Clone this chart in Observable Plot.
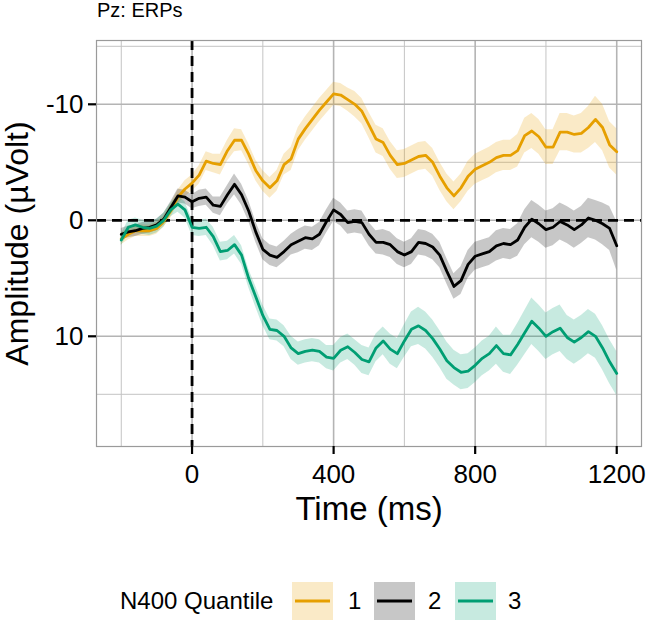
<!DOCTYPE html>
<html><head><meta charset="utf-8">
<script src="https://cdn.jsdelivr.net/npm/d3@7"></script>
<script src="https://cdn.jsdelivr.net/npm/@observablehq/plot@0.6"></script>
<style>
body{margin:0;background:#fff;font-family:"Liberation Sans",Arial,Helvetica,sans-serif;}
#wrap{position:relative;width:646px;height:624px;overflow:hidden;background:#fff;}
#title{position:absolute;left:97px;top:0px;font-size:20px;line-height:20px;color:#000;}
#chart{position:absolute;left:0;top:22px;}
#legend{position:absolute;left:0;top:570px;width:646px;height:54px;font-size:24px;color:#000;}
#legend span{position:absolute;line-height:24px;top:19px;white-space:nowrap;}
#legend svg{position:absolute;top:12px;}
</style></head><body>
<div id="wrap"><div id="title">Pz: ERPs</div><div id="chart"></div><div id="legend"></div></div>
<script>
const times = [-200,-180,-160,-140,-120,-100,-80,-60,-40,-20,0,20,40,60,80,100,120,140,160,180,200,220,240,260,280,300,320,340,360,380,400,420,440,460,480,500,520,540,560,580,600,620,640,660,680,700,720,740,760,780,800,820,840,860,880,900,920,940,960,980,1000,1020,1040,1060,1080,1100,1120,1140,1160,1180,1200];

const q1 = [1.6,1.2,0.9,0.9,0.9,0.7,0.1,-0.8,-2.0,-2.7,-3.2,-3.9,-5.1,-4.9,-4.8,-6.0,-6.9,-6.9,-5.7,-4.3,-3.4,-2.8,-3.4,-4.8,-5.3,-7.0,-7.9,-8.7,-9.5,-10.2,-10.9,-10.8,-10.4,-10.0,-9.4,-8.2,-7.0,-6.7,-5.6,-4.8,-4.9,-5.2,-5.5,-5.6,-5.0,-3.8,-2.8,-2.1,-2.8,-3.8,-4.4,-4.7,-5.0,-5.4,-5.6,-5.6,-6.0,-7.3,-7.7,-7.2,-6.3,-6.3,-7.6,-7.6,-7.4,-7.5,-8.0,-8.7,-8.0,-6.5,-5.9];
const q2 = [1.2,1.0,0.9,0.7,0.6,0.4,-0.1,-1.1,-2.1,-2.0,-1.6,-1.9,-2.0,-1.3,-1.2,-2.2,-3.1,-2.2,-0.8,1.0,2.5,3.0,3.2,2.7,2.1,1.8,1.5,1.6,1.2,0.1,-0.9,-0.5,0.2,0.1,0.2,1.2,1.9,1.9,2.1,2.7,3.0,2.7,1.9,2.0,2.3,3.0,4.4,5.7,5.2,3.8,3.1,2.9,2.7,2.2,2.0,2.1,1.7,0.6,-0.1,0.3,0.8,0.6,0.1,0.4,0.8,0.4,-0.2,0.0,0.3,0.7,2.2];
const q3 = [1.7,0.6,0.4,0.6,0.7,0.5,0.0,-0.9,-1.4,-0.9,0.6,0.7,0.6,1.4,2.7,2.6,2.1,3.0,5.0,6.6,8.2,9.4,9.5,10.0,11.0,11.5,11.3,11.2,11.3,11.8,11.9,11.2,10.9,11.4,12.0,12.2,11.0,10.4,11.1,11.5,10.4,9.4,9.1,9.5,10.2,11.1,12.1,12.7,13.1,13.0,12.5,11.9,11.5,10.8,11.5,11.6,10.7,9.7,8.7,9.3,10.0,9.6,9.3,10.1,10.5,10.1,9.6,10.0,11.0,12.2,13.2];

const se1 = [0.5,0.5,0.5,0.5,0.5,0.5,0.5,0.6,0.6,0.7,0.7, 0.8,0.8,0.8,0.9,0.9,1.0,0.9,0.9,0.9,0.9, 0.9,0.9,0.9,1.0,1.0,1.0,1.0,1.0,1.0,1.0, 1.0,1.0,1.1,1.1,1.1,1.2,1.2,1.2,1.2,1.2, 1.2,1.2,1.2,1.2,1.2,1.2,1.2,1.2,1.3,1.3, 1.3,1.3,1.3,1.3,1.3,1.4,1.5,1.5,1.5,1.5, 1.5,1.6,1.6,1.6,1.7,1.8,2.0,2.0,2.0,2.0];
const se2 = [0.5,0.5,0.5,0.5,0.5,0.5,0.5,0.5,0.6,0.6,0.6, 0.7,0.7,0.7,0.8,0.8,0.9,0.9,0.9,0.9,0.9, 0.9,0.9,0.9,0.9,1.0,1.0,1.0,1.0,1.0,1.0, 1.0,1.0,1.0,1.0,1.0,1.0,1.1,1.1,1.1,1.1, 1.1,1.1,1.1,1.1,1.1,1.1,1.1,1.2,1.2,1.2, 1.2,1.2,1.3,1.3,1.3,1.4,1.5,1.6,1.6,1.6, 1.6,1.6,1.6,1.6,1.6,1.7,1.7,1.8,1.9,2.1];
const se3 = [0.5,0.6,0.6,0.6,0.6,0.6,0.6,0.6,0.7,0.7,0.7, 0.7,0.7,0.8,0.8,0.8,0.8,0.8,0.8,0.9,0.9, 0.9,0.9,0.9,1.0,1.0,1.0,1.0,1.0,1.0,1.1, 1.1,1.1,1.1,1.2,1.2,1.2,1.2,1.3,1.3,1.4, 1.5,1.6,1.6,1.6,1.6,1.6,1.5,1.5,1.5,1.5, 1.5,1.5,1.6,1.6,1.7,1.8,1.9,2.0,2.0,2.0, 2.0,2.0,1.9,1.9,1.9,1.9,1.9,1.9,1.9,1.9];

const quantiles = ["1","2","3"];
const colors = ["#E69F00","#000000","#009E73"];
const xMajor = [0,400,800,1200];
const xMinor = [-200,200,600,1000];
const yMajor = [-10,0,10];
const yMinor = [-15,-5,5,15];

const seriesY = [q1,q2,q3];
const seriesSE = [se1,se2,se3];
const rows = quantiles.flatMap((q,k) => times.map((t,i) => ({
  t, q, y: seriesY[k][i], lo: seriesY[k][i]-seriesSE[k][i], hi: seriesY[k][i]+seriesSE[k][i]
})));

const font = "'Liberation Sans',Arial,Helvetica,sans-serif";
const plot = Plot.plot({
  width: 646, height: 548,
  marginLeft: 96, marginRight: 5, marginTop: 18, marginBottom: 124,
  style: {fontFamily: font, fontSize: "26px", color: "#000", background: "#fff", overflow: "visible"},
  x: {domain: [-270, 1270]},
  y: {domain: [-15.5, 19.5], reverse: true},
  color: {domain: quantiles, range: colors},
  marks: [
    Plot.ruleX(xMinor, {stroke: "#c4c4c4", strokeWidth: 1}),
    Plot.ruleY(yMinor, {stroke: "#c4c4c4", strokeWidth: 1}),
    Plot.ruleX(xMajor, {stroke: "#b4b4b4", strokeWidth: 1.6}),
    Plot.ruleY(yMajor, {stroke: "#b4b4b4", strokeWidth: 1.6}),
    Plot.areaY(rows, {x: "t", y1: "lo", y2: "hi", fill: "q", z: "q", fillOpacity: 0.22}),
    Plot.ruleX([0], {stroke: "#000", strokeWidth: 2.8, strokeDasharray: "10,6"}),
    Plot.ruleY([0], {stroke: "#000", strokeWidth: 2.8, strokeDasharray: "10,6"}),
    Plot.lineY(rows, {x: "t", y: "y", stroke: "q", z: "q", strokeWidth: 2.8}),
    Plot.frame({stroke: "#9a9a9a", strokeWidth: 1.2}),
    Plot.axisX(xMajor, {tickSize: 8, tickPadding: 10, strokeWidth: 2.2, tickFormat: d => String(d), label: null, fontSize: 26}),
    Plot.axisY(yMajor, {tickSize: 8, tickPadding: 5, strokeWidth: 2.2, tickFormat: d => String(d), label: null, fontSize: 26}),
    Plot.text(["Time (ms)"], {text: d => d, frameAnchor: "bottom", dy: 73, lineAnchor: "bottom", textAnchor: "middle", fontSize: 33}),
    Plot.text(["Amplitude (µVolt)"], {text: d => d, frameAnchor: "left", dx: -69, rotate: -90, lineAnchor: "bottom", textAnchor: "middle", fontSize: 32})
  ]
});
document.getElementById("chart").appendChild(plot);

// legend
const leg = document.getElementById("legend");
const keyX = [292, 374, 455];
const labX = [348, 428, 508];
let html = `<span style="left:120px">N400 Quantile</span>`;
quantiles.forEach((q, i) => {
  html += `<svg width="41" height="38" style="left:${keyX[i]}px"><rect width="41" height="38" fill="${colors[i]}" fill-opacity="0.22"/><line x1="3" x2="38" y1="19" y2="19" stroke="${colors[i]}" stroke-width="3"/></svg>`;
  html += `<span style="left:${labX[i]}px">${q}</span>`;
});
leg.innerHTML = html;
</script>
</body></html>
